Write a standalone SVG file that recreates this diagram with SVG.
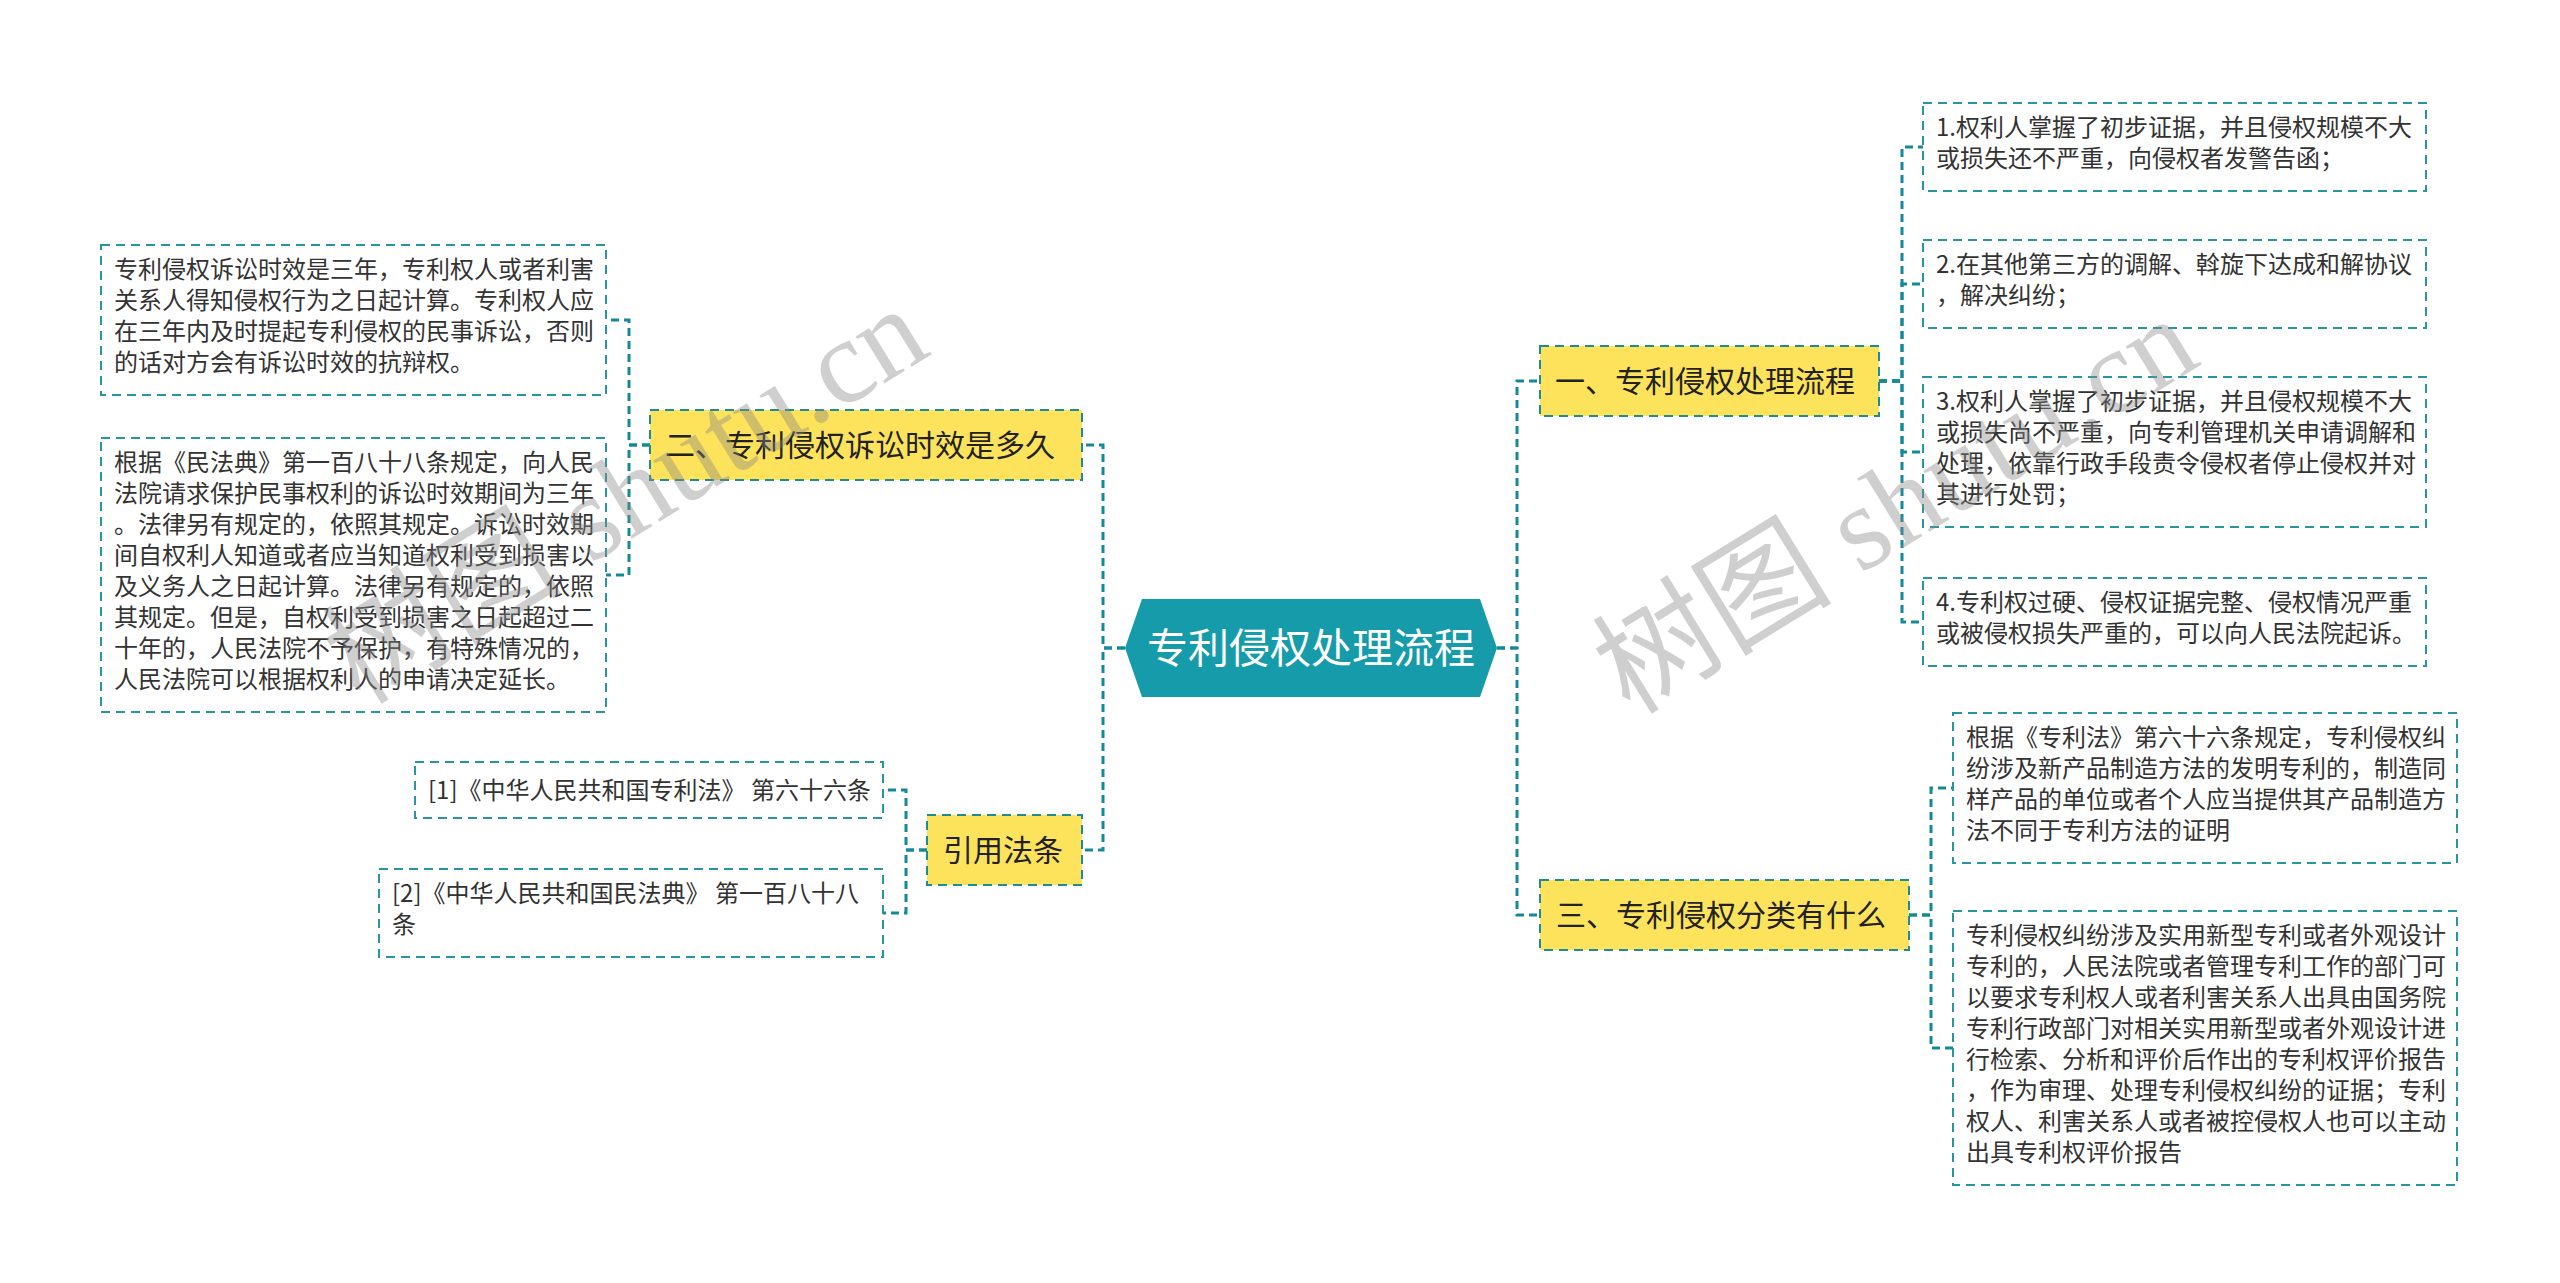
<svg xmlns="http://www.w3.org/2000/svg" width="2560" height="1283" viewBox="0 0 2560 1283">
<style>
.conn{fill:none;stroke:#14899A;stroke-width:3;stroke-dasharray:8 5}
.topic rect{fill:#FDE35B;stroke:#1E8C96;stroke-width:2;stroke-dasharray:9 6}
.leaf rect{fill:#FFFFFF;stroke:#2A95A2;stroke-width:2;stroke-dasharray:9 6}
text{font-family:"Noto Sans CJK SC","Microsoft YaHei",sans-serif}
.t30{font-size:30px;fill:#222}
.t24{font-size:24px;fill:#333}
.t40{font-size:41px;fill:#FFFFFF}
.wm{font-family:"Liberation Serif","Noto Sans CJK SC",serif;font-size:120px;fill:#888;fill-opacity:0.4}
</style>
<rect width="2560" height="1283" fill="#FFFFFF"/>
<g id="connectors">
<path class="conn" d="M1125,648 H1103 V445 H1082"/>
<path class="conn" d="M1125,648 H1103 V850 H1082"/>
<path class="conn" d="M1497,648 H1517 V381 H1540"/>
<path class="conn" d="M1497,648 H1517 V915 H1540"/>
<path class="conn" d="M650,445 H629 V320 H606"/>
<path class="conn" d="M650,445 H629 V575 H606"/>
<path class="conn" d="M927,850 H906 V790 H883"/>
<path class="conn" d="M927,850 H906 V913 H883"/>
<path class="conn" d="M1879,381 H1902 V147 H1923"/>
<path class="conn" d="M1879,381 H1902 V284 H1923"/>
<path class="conn" d="M1879,381 H1902 V452 H1923"/>
<path class="conn" d="M1879,381 H1902 V622 H1923"/>
<path class="conn" d="M1909,915 H1931 V788 H1953"/>
<path class="conn" d="M1909,915 H1931 V1048 H1953"/>
</g>
<g id="root">
<polygon points="1125,648 1142,599 1480,599 1497,648 1480,697 1142,697" fill="#169BAA"/>
<text class="t40" x="1311" y="663" text-anchor="middle">专利侵权处理流程</text>
</g>
<g id="topic1" class="topic">
<rect x="1540" y="346" width="339" height="70"/>
<text class="t30" x="1555" y="392">一、专利侵权处理流程</text>
</g>
<g id="topic3" class="topic">
<rect x="1540" y="880" width="369" height="70"/>
<text class="t30" x="1556" y="926">三、专利侵权分类有什么</text>
</g>
<g id="topic2" class="topic">
<rect x="650" y="410" width="432" height="70"/>
<text class="t30" x="665" y="456">二、专利侵权诉讼时效是多久</text>
</g>
<g id="topic4" class="topic">
<rect x="927" y="815" width="155" height="70"/>
<text class="t30" x="943" y="861">引用法条</text>
</g>
<g id="leaf1" class="leaf">
<rect x="1923" y="103" width="503" height="88"/>
<text class="t24" x="1936" y="136">1.权利人掌握了初步证据，并且侵权规模不大</text>
<text class="t24" x="1936" y="167">或损失还不严重，向侵权者发警告函；</text>
</g>
<g id="leaf2" class="leaf">
<rect x="1923" y="240" width="503" height="88"/>
<text class="t24" x="1936" y="273">2.在其他第三方的调解、斡旋下达成和解协议</text>
<text class="t24" x="1936" y="304">，解决纠纷；</text>
</g>
<g id="leaf3" class="leaf">
<rect x="1923" y="377" width="503" height="150"/>
<text class="t24" x="1936" y="410">3.权利人掌握了初步证据，并且侵权规模不大</text>
<text class="t24" x="1936" y="441">或损失尚不严重，向专利管理机关申请调解和</text>
<text class="t24" x="1936" y="472">处理，依靠行政手段责令侵权者停止侵权并对</text>
<text class="t24" x="1936" y="503">其进行处罚；</text>
</g>
<g id="leaf4" class="leaf">
<rect x="1923" y="578" width="503" height="88"/>
<text class="t24" x="1936" y="611">4.专利权过硬、侵权证据完整、侵权情况严重</text>
<text class="t24" x="1936" y="642">或被侵权损失严重的，可以向人民法院起诉。</text>
</g>
<g id="leaf5" class="leaf">
<rect x="1953" y="713" width="504" height="150"/>
<text class="t24" x="1966" y="746">根据《专利法》第六十六条规定，专利侵权纠</text>
<text class="t24" x="1966" y="777">纷涉及新产品制造方法的发明专利的，制造同</text>
<text class="t24" x="1966" y="808">样产品的单位或者个人应当提供其产品制造方</text>
<text class="t24" x="1966" y="839">法不同于专利方法的证明</text>
</g>
<g id="leaf6" class="leaf">
<rect x="1953" y="911" width="504" height="274"/>
<text class="t24" x="1966" y="944">专利侵权纠纷涉及实用新型专利或者外观设计</text>
<text class="t24" x="1966" y="975">专利的，人民法院或者管理专利工作的部门可</text>
<text class="t24" x="1966" y="1006">以要求专利权人或者利害关系人出具由国务院</text>
<text class="t24" x="1966" y="1037">专利行政部门对相关实用新型或者外观设计进</text>
<text class="t24" x="1966" y="1068">行检索、分析和评价后作出的专利权评价报告</text>
<text class="t24" x="1966" y="1099">，作为审理、处理专利侵权纠纷的证据；专利</text>
<text class="t24" x="1966" y="1130">权人、利害关系人或者被控侵权人也可以主动</text>
<text class="t24" x="1966" y="1161">出具专利权评价报告</text>
</g>
<g id="leaf7" class="leaf">
<rect x="101" y="245" width="505" height="150"/>
<text class="t24" x="114" y="278">专利侵权诉讼时效是三年，专利权人或者利害</text>
<text class="t24" x="114" y="309">关系人得知侵权行为之日起计算。专利权人应</text>
<text class="t24" x="114" y="340">在三年内及时提起专利侵权的民事诉讼，否则</text>
<text class="t24" x="114" y="371">的话对方会有诉讼时效的抗辩权。</text>
</g>
<g id="leaf8" class="leaf">
<rect x="101" y="438" width="505" height="274"/>
<text class="t24" x="114" y="471">根据《民法典》第一百八十八条规定，向人民</text>
<text class="t24" x="114" y="502">法院请求保护民事权利的诉讼时效期间为三年</text>
<text class="t24" x="114" y="533">。法律另有规定的，依照其规定。诉讼时效期</text>
<text class="t24" x="114" y="564">间自权利人知道或者应当知道权利受到损害以</text>
<text class="t24" x="114" y="595">及义务人之日起计算。法律另有规定的，依照</text>
<text class="t24" x="114" y="626">其规定。但是，自权利受到损害之日起超过二</text>
<text class="t24" x="114" y="657">十年的，人民法院不予保护，有特殊情况的，</text>
<text class="t24" x="114" y="688">人民法院可以根据权利人的申请决定延长。</text>
</g>
<g id="ref1" class="leaf">
<rect x="415" y="762" width="468" height="56"/>
<text class="t24" x="428" y="799">[1]《中华人民共和国专利法》 第六十六条</text>
</g>
<g id="ref2" class="leaf">
<rect x="379" y="869" width="504" height="88"/>
<text class="t24" x="392" y="902">[2]《中华人民共和国民法典》 第一百八十八</text>
<text class="t24" x="392" y="933">条</text>
</g>
<g id="watermark">
<text class="wm" transform="translate(360,706) rotate(-31.6)">树图 shutu.cn</text>
<text class="wm" transform="translate(1630,716) rotate(-31.6)">树图 shutu.cn</text>
</g>
</svg>
